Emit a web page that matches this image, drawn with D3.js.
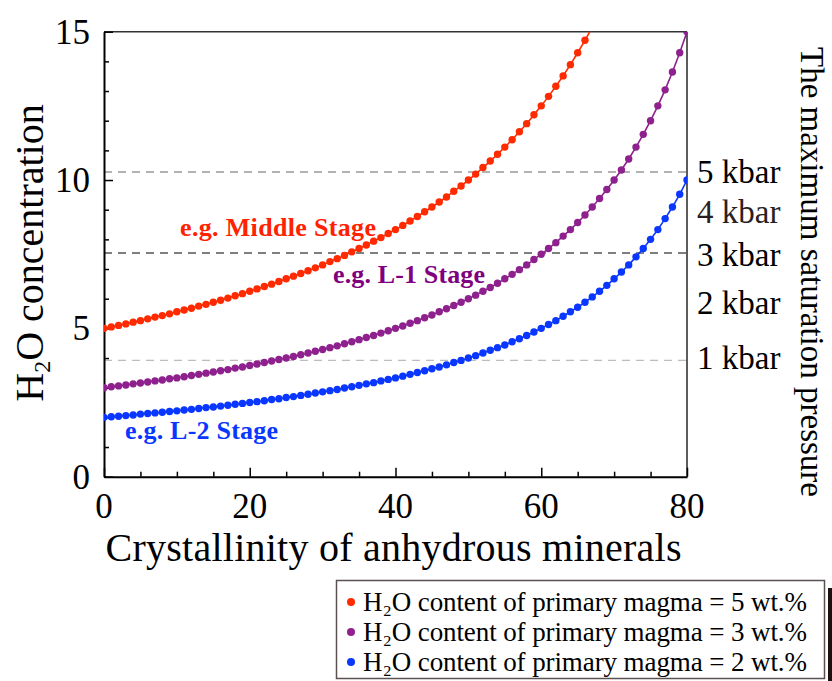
<!DOCTYPE html>
<html>
<head>
<meta charset="utf-8">
<script src="https://cdn.jsdelivr.net/npm/d3@7"></script>
<style>
  body { margin: 0; background: #fff; }
  svg text { font-family: "Liberation Serif", "Times New Roman", serif; }
</style>
</head>
<body>
<div id="chart"></div>
<script>
// canvas size
var width = 832;
var height = 681;

// H2O concentration along crystallinity 0,1,2,... (one value per 1 %)
var magma5 = [5.00, 5.05, 5.10, 5.15, 5.21, 5.26, 5.32, 5.38, 5.43, 5.49,
  5.56, 5.62, 5.68, 5.75, 5.81, 5.88, 5.95, 6.02, 6.10, 6.17,
  6.25, 6.33, 6.41, 6.49, 6.58, 6.67, 6.76, 6.85, 6.94, 7.04,
  7.14, 7.25, 7.35, 7.46, 7.58, 7.69, 7.81, 7.94, 8.06, 8.20,
  8.33, 8.47, 8.62, 8.77, 8.93, 9.09, 9.26, 9.43, 9.62, 9.80,
  10.00, 10.20, 10.42, 10.64, 10.87, 11.11, 11.36, 11.63, 11.90, 12.20,
  12.50, 12.82, 13.16, 13.51, 13.89, 14.29, 14.71, 15.15];
var magma3 = [3.00, 3.03, 3.06, 3.09, 3.13, 3.16, 3.19, 3.23, 3.26, 3.30,
  3.33, 3.37, 3.41, 3.45, 3.49, 3.53, 3.57, 3.61, 3.66, 3.70,
  3.75, 3.80, 3.85, 3.90, 3.95, 4.00, 4.05, 4.11, 4.17, 4.23,
  4.29, 4.35, 4.41, 4.48, 4.55, 4.62, 4.69, 4.76, 4.84, 4.92,
  5.00, 5.08, 5.17, 5.26, 5.36, 5.45, 5.56, 5.66, 5.77, 5.88,
  6.00, 6.12, 6.25, 6.38, 6.52, 6.67, 6.82, 6.98, 7.14, 7.32,
  7.50, 7.69, 7.89, 8.11, 8.33, 8.57, 8.82, 9.09, 9.38, 9.68,
  10.00, 10.34, 10.71, 11.11, 11.54, 12.00, 12.50, 13.04, 13.64, 14.29,
  15.00];
var magma2 = [2.00, 2.02, 2.04, 2.06, 2.08, 2.11, 2.13, 2.15, 2.17, 2.20,
  2.22, 2.25, 2.27, 2.30, 2.33, 2.35, 2.38, 2.41, 2.44, 2.47,
  2.50, 2.53, 2.56, 2.60, 2.63, 2.67, 2.70, 2.74, 2.78, 2.82,
  2.86, 2.90, 2.94, 2.99, 3.03, 3.08, 3.13, 3.17, 3.23, 3.28,
  3.33, 3.39, 3.45, 3.51, 3.57, 3.64, 3.70, 3.77, 3.85, 3.92,
  4.00, 4.08, 4.17, 4.26, 4.35, 4.44, 4.55, 4.65, 4.76, 4.88,
  5.00, 5.13, 5.26, 5.41, 5.56, 5.71, 5.88, 6.06, 6.25, 6.45,
  6.67, 6.90, 7.14, 7.41, 7.69, 8.00, 8.33, 8.70, 9.09, 9.52,
  10.00];

// series info
var seriesNames = ["H\u2082O content of primary magma = 5 wt.%",
                   "H\u2082O content of primary magma = 3 wt.%",
                   "H\u2082O content of primary magma = 2 wt.%"];
var seriesColors = ["#ff2a00", "#8e218e", "#0a37ff"];
var stageLabels = ["e.g. Middle Stage", "e.g. L-1 Stage", "e.g. L-2 Stage"];
var stageColors = ["#ff2200", "#800080", "#0a37ff"];

// saturation pressure labels on the right and the H2O level they sit at
var kbarLabels = ["1 kbar", "2 kbar", "3 kbar", "4 kbar", "5 kbar"];
var kbarLevels = [4.0, 5.85, 7.48, 8.92, 10.27];
// dashed reference levels (1, 3, 5 kbar)
var dashLevels = [3.92, 7.54, 10.27];
var dashColors = ["#bdbdbd", "#555", "#999"];

// axis ticks
var xTicks = [0, 20, 40, 60, 80];
var yTicks = [0, 5, 10, 15];

// plot area
var plotL = 104, plotR = 687, plotT = 31.7, plotB = 476.7;

var svg = d3.select("#chart")
            .append("svg")
            .attr("width", width)
            .attr("height", height);

var x = d3.scaleLinear().domain([0, 80]).range([plotL, plotR]);
var y = d3.scaleLinear().domain([0, 15]).range([plotB, plotT]);

// clip for curves
svg.append("clipPath").attr("id", "plotclip")
   .append("rect")
   .attr("x", plotL).attr("y", plotT)
   .attr("width", plotR - plotL).attr("height", plotB - plotT);

// dashed pressure lines
svg.selectAll("line.dash")
   .data(dashLevels)
   .enter()
   .append("line")
   .attr("class", "dash")
   .attr("x1", plotL).attr("x2", plotR)
   .attr("y1", function(d) {return y(d);})
   .attr("y2", function(d) {return y(d);})
   .attr("stroke", function(d, i) {return dashColors[i];})
   .attr("stroke-width", 1.3)
   .attr("stroke-dasharray", "8,6");

// frame: top and right
svg.append("line")
   .attr("x1", plotL).attr("x2", plotR).attr("y1", plotT).attr("y2", plotT)
   .attr("stroke", "#333").attr("stroke-width", 1.6);
svg.append("line")
   .attr("x1", plotR).attr("x2", plotR).attr("y1", plotT).attr("y2", plotB)
   .attr("stroke", "#333").attr("stroke-width", 1.6);

// left axis, ticks pointing inward
var yAxis = d3.axisLeft(y).tickValues(d3.range(0, 16, 1)).tickSize(-5).tickFormat("").tickSizeOuter(0);
var gy = svg.append("g").attr("transform", "translate(" + plotL + ",0)").call(yAxis);
gy.selectAll(".tick line").filter(function(d) {return d % 5 === 0;}).attr("x2", 9);
gy.select(".domain").attr("stroke-width", 2);
gy.selectAll(".tick line").attr("stroke-width", 1.5);

// bottom axis, ticks pointing inward
var xAxis = d3.axisBottom(x).tickValues(d3.range(0, 81, 5)).tickSize(-5).tickFormat("").tickSizeOuter(0);
var gx = svg.append("g").attr("transform", "translate(0," + plotB + ")").call(xAxis);
gx.selectAll(".tick line").filter(function(d) {return d % 20 === 0;}).attr("y2", -9);
gx.select(".domain").attr("stroke-width", 2);
gx.selectAll(".tick line").attr("stroke-width", 1.5);

// tick labels
svg.selectAll("text.ylab")
   .data(yTicks)
   .enter()
   .append("text")
   .attr("class", "ylab")
   .attr("x", 90)
   .attr("y", function(d) {return y(d) + 12;})
   .attr("text-anchor", "end")
   .attr("font-size", 35)
   .text(function(d) {return d;});
svg.selectAll("text.xlab")
   .data(xTicks)
   .enter()
   .append("text")
   .attr("class", "xlab")
   .attr("x", function(d) {return x(d);})
   .attr("y", 518)
   .attr("text-anchor", "middle")
   .attr("font-size", 35)
   .text(function(d) {return d;});

// axis titles
svg.append("text")
   .attr("x", (plotL + plotR) / 2 - 2)
   .attr("y", 561)
   .attr("text-anchor", "middle")
   .attr("font-size", 40)
   .attr("textLength", 576)
   .text("Crystallinity of anhydrous minerals");

var yt = svg.append("text")
   .attr("transform", "translate(43,253) rotate(-90)")
   .attr("text-anchor", "middle")
   .attr("font-size", 40);
yt.append("tspan").text("H");
yt.append("tspan").attr("font-size", 24).attr("dy", 7).text("2");
yt.append("tspan").attr("dy", -7).text("O concentration");

svg.append("text")
   .attr("transform", "translate(801,47) rotate(90)")
   .attr("text-anchor", "start")
   .attr("font-size", 33)
   .text("The maximum saturation pressure");

// right pressure labels
svg.selectAll("text.kbar")
   .data(kbarLevels)
   .enter()
   .append("text")
   .attr("class", "kbar")
   .attr("x", 697)
   .attr("y", function(d) {return y(d) + 11;})
   .attr("font-size", 33)
   .attr("fill", function(d, i) {return i === 3 ? "#2a1f1f" : "#000";})
   .text(function(d, i) {return kbarLabels[i];});

// curves
var series = [magma5, magma3, magma2];
var line = d3.line()
             .x(function(d, i) {return x(i);})
             .y(function(d) {return y(d);});

var curves = svg.append("g").attr("clip-path", "url(#plotclip)");
series.forEach(function(vals, k) {
  curves.append("path")
        .datum(vals)
        .attr("d", line)
        .attr("fill", "none")
        .attr("stroke", seriesColors[k])
        .attr("stroke-width", 1.6);
  curves.selectAll("circle.s" + k)
        .data(vals)
        .enter()
        .append("circle")
        .attr("class", "s" + k)
        .attr("cx", function(d, i) {return x(i);})
        .attr("cy", function(d) {return y(d);})
        .attr("r", 3.7)
        .attr("fill", seriesColors[k]);
});

// stage labels
var stagePos = [[180, 236], [333, 283], [125, 439]];
var stageWidth = [196, 152, 153];
svg.selectAll("text.stage")
   .data(stageLabels)
   .enter()
   .append("text")
   .attr("class", "stage")
   .attr("x", function(d, i) {return stagePos[i][0];})
   .attr("y", function(d, i) {return stagePos[i][1];})
   .attr("font-size", 26)
   .attr("font-weight", "bold")
   .attr("textLength", function(d, i) {return stageWidth[i];})
   .attr("fill", function(d, i) {return stageColors[i];})
   .text(function(d) {return d;});

// legend
svg.append("rect")
   .attr("x", 828).attr("y", 588).attr("width", 4).attr("height", 93)
   .attr("fill", "#1c1212");
svg.append("rect")
   .attr("x", 336.5).attr("y", 580.5).attr("width", 488).attr("height", 98)
   .attr("fill", "#fff").attr("stroke", "#5a5050").attr("stroke-width", 1.5);

var legend = svg.selectAll("g.leg")
   .data(seriesNames)
   .enter()
   .append("g")
   .attr("class", "leg")
   .attr("transform", function(d, i) {return "translate(351," + (611 + i * 30) + ")";});
legend.append("circle")
      .attr("cx", 0).attr("cy", -9).attr("r", 4)
      .attr("fill", function(d, i) {return seriesColors[i];});
legend.append("text")
      .attr("x", 12)
      .attr("y", 0)
      .attr("font-size", 27)
      .attr("textLength", 444)
      .text(function(d) {return d;});
</script>
</body>
</html>
